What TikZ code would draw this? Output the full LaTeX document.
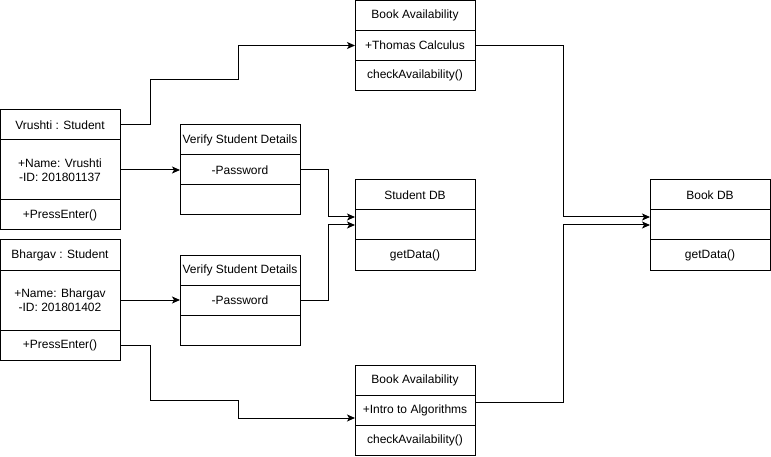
\documentclass[tikz,border=0pt]{standalone}
\usepackage{fontspec}
\setmainfont{Liberation Sans}
\usetikzlibrary{positioning,arrows.meta}

\tikzset{
  part/.style={draw, line width=1pt, minimum width=120pt, minimum height=30pt,
    inner sep=0pt, outer sep=0pt, align=center, font=\fontsize{12}{14}\selectfont},
  link/.style={draw, line width=1pt, -{Stealth[length=8pt,width=7pt,inset=2pt]}}
}

\begin{document}
\begin{tikzpicture}[x=1pt,y=-1pt]
\useasboundingbox (0,0) rectangle (771,457);
% students
\node[part] (vrushti) at (60,125) {Vrushti : Student};
\node[part, minimum height=60pt, below=0pt of vrushti] (vrushti-attr) {+Name: Vrushti\\-ID: 201801137};
\node[part, below=0pt of vrushti-attr] (vrushti-op) {+PressEnter()};
\node[part] (bhargav) at (60,255) {Bhargav : Student};
\node[part, minimum height=60pt, below=0pt of bhargav] (bhargav-attr) {+Name: Bhargav\\-ID: 201801402};
\node[part, below=0pt of bhargav-attr] (bhargav-op) {+PressEnter()};
% verification
\node[part] (verify1) at (240,140) {Verify Student Details};
\node[part, below=0pt of verify1] (verify1-attr) {-Password};
\node[part, below=0pt of verify1-attr] (verify1-op) {};
\node[part] (verify2) at (240,270) {Verify Student Details};
\node[part, below=0pt of verify2] (verify2-attr) {-Password};
\node[part, below=0pt of verify2-attr] (verify2-op) {};
% books
\node[part] (bookA) at (415,15.5) {Book Availability};
\node[part, below=0pt of bookA] (bookA-attr) {+Thomas Calculus};
\node[part, below=0pt of bookA-attr] (bookA-op) {checkAvailability()};
\node[part] (bookB) at (415,380) {Book Availability};
\node[part, below=0pt of bookB] (bookB-attr) {+Intro to Algorithms};
\node[part, below=0pt of bookB-attr] (bookB-op) {checkAvailability()};
% databases
\node[part] (studentdb) at (415,195) {Student DB};
\node[part, below=0pt of studentdb] (studentdb-attr) {};
\node[part, below=0pt of studentdb-attr] (studentdb-op) {getData()};
\node[part] (bookdb) at (710,195) {Book DB};
\node[part, below=0pt of bookdb] (bookdb-attr) {};
\node[part, below=0pt of bookdb-attr] (bookdb-op) {getData()};
% connectors
\draw[link] (vrushti.east) -- ++(30,0) |- ++(88,-45) |- (bookA-attr.west);
\draw[link] (vrushti-attr.east) -- (verify1-attr.west);
\draw[link] (bhargav-attr.east) -- (verify2-attr.west);
\draw[link] (bhargav-op.east) -- ++(30,0) |- ++(88,55) |- ([yshift=-8pt]bookB-attr.west);
\draw[link] (verify1-attr.east) -- ++(28,0) |- ([yshift=8pt]studentdb-attr.west);
\draw[link] (verify2-attr.east) -- ++(28,0) |- (studentdb-attr.west);
\draw[link] (bookA-attr.east) -- ++(88,0) |- ([yshift=8pt]bookdb-attr.west);
\draw[link] ([yshift=8pt]bookB-attr.east) -- ++(88,0) |- (bookdb-attr.west);
\end{tikzpicture}
\end{document}
